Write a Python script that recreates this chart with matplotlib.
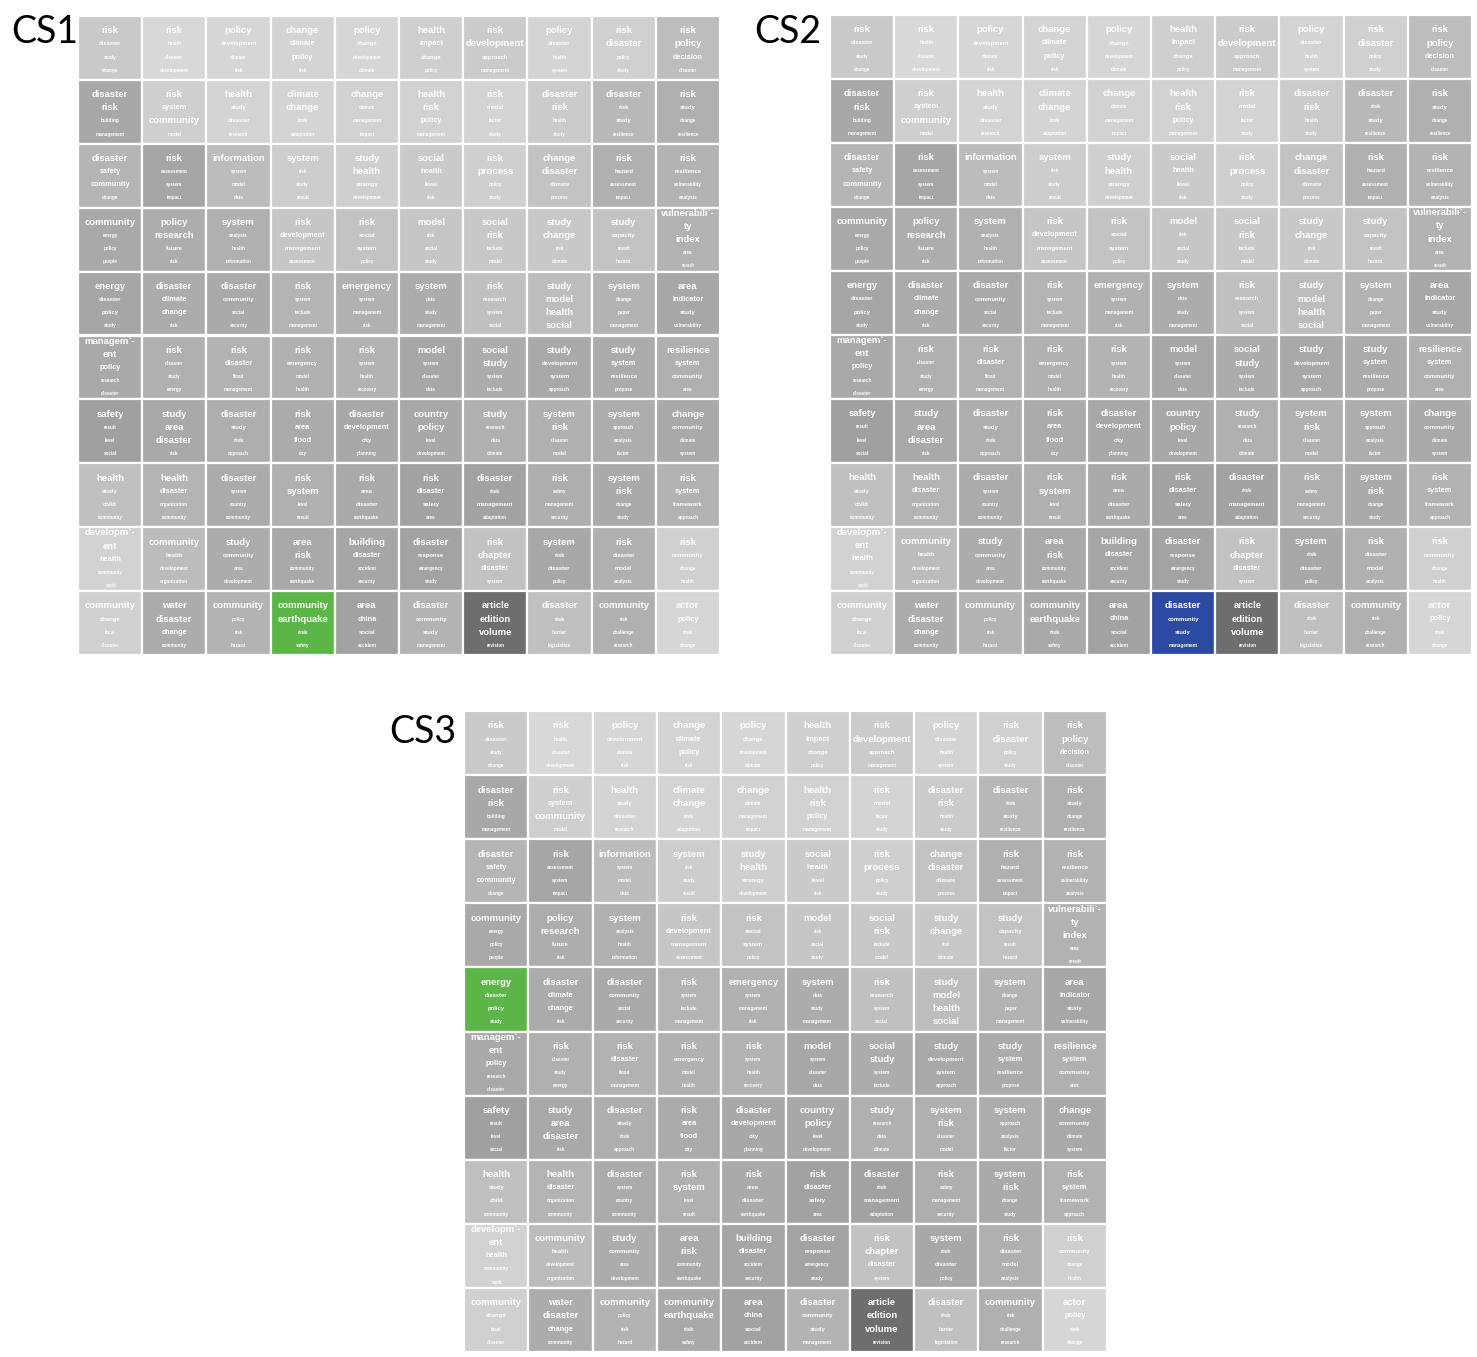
import matplotlib.pyplot as plt
from matplotlib.patches import Rectangle

# SOM cell labels (4 top words per cell), row by row, 10 x 10
words = [
    ["risk|disaster|study|change", "risk|health|disaster|development", "policy|development|climate|risk",
     "change|climate|policy|risk", "policy|change|development|climate", "health|impact|change|policy",
     "risk|development|approach|management", "policy|disaster|health|system", "risk|disaster|policy|study",
     "risk|policy|decision|disaster"],
    ["disaster|risk|building|management", "risk|system|community|model", "health|study|disaster|research",
     "climate|change|risk|adaptation", "change|climate|management|impact", "health|risk|policy|management",
     "risk|model|factor|study", "disaster|risk|health|study", "disaster|risk|study|resilience",
     "risk|study|change|resilience"],
    ["disaster|safety|community|change", "risk|assessment|system|impact", "information|system|model|data",
     "system|risk|study|result", "study|health|strategy|development", "social|health|level|risk",
     "risk|process|policy|study", "change|disaster|climate|process", "risk|hazard|assessment|impact",
     "risk|resilience|vulnerability|analysis"],
    ["community|energy|policy|people", "policy|research|future|risk", "system|analysis|health|information",
     "risk|development|management|assessment", "risk|social|system|policy", "model|risk|social|study",
     "social|risk|include|model", "study|change|risk|climate", "study|capacity|result|hazard",
     "vulnerabili`-\nty|index|area|result"],
    ["energy|disaster|policy|study", "disaster|climate|change|risk", "disaster|community|social|security",
     "risk|system|include|management", "emergency|system|management|risk", "system|data|study|management",
     "risk|research|system|social", "study|model|health|social", "system|change|paper|management",
     "area|indicator|study|vulnerability"],
    ["managem`-\nent|policy|research|disaster", "risk|disaster|study|energy", "risk|disaster|flood|management",
     "risk|emergency|model|health", "risk|system|health|recovery", "model|system|disaster|data",
     "social|study|system|include", "study|development|system|approach", "study|system|resilience|propose",
     "resilience|system|community|area"],
    ["safety|result|level|social", "study|area|disaster|risk", "disaster|study|risk|approach",
     "risk|area|flood|city", "disaster|development|city|planning", "country|policy|level|development",
     "study|research|data|climate", "system|risk|disaster|model", "system|approach|analysis|factor",
     "change|community|climate|system"],
    ["health|study|child|community", "health|disaster|organization|community", "disaster|system|country|community",
     "risk|system|level|result", "risk|area|disaster|earthquake", "risk|disaster|safety|area",
     "disaster|risk|management|adaptation", "risk|safety|management|security", "system|risk|change|study",
     "risk|system|framework|approach"],
    ["developm`-\nent|health|community|work", "community|health|development|organization",
     "study|community|area|development", "area|risk|community|earthquake", "building|disaster|accident|security",
     "disaster|response|emergency|study", "risk|chapter|disaster|system", "system|risk|disaster|policy",
     "risk|disaster|model|analysis", "risk|community|change|health"],
    ["community|change|local|disaster", "water|disaster|change|community", "community|policy|risk|hazard",
     "community|earthquake|risk|safety", "area|china|social|accident", "disaster|community|study|management",
     "article|edition|volume|revision", "disaster|risk|barrier|legislation", "community|risk|challenge|research",
     "actor|policy|risk|change"],
]

# word weight level per word (3 = largest)
levels = [
    ["3100", "3000", "3100", "3220", "3100", "3210", "3310", "3100", "3300", "3320"],
    ["3300", "3230", "3110", "3310", "3000", "3320", "3100", "3300", "3110", "3100"],
    ["3220", "3000", "3000", "3000", "3310", "3210", "3300", "3310", "3100", "3100"],
    ["3000", "3310", "3000", "3210", "3110", "3000", "3300", "3300", "3100", "3300"],
    ["3110", "3220", "3100", "3000", "3000", "3000", "3100", "3333", "3000", "3210"],
    ["3200", "3000", "3200", "3100", "3000", "3000", "3300", "3110", "3210", "3210"],
    ["3000", "3330", "3110", "3220", "3210", "3300", "3000", "3300", "3000", "3100"],
    ["3110", "3200", "3000", "3300", "3110", "3210", "3110", "3000", "3300", "3210"],
    ["3200", "3100", "3100", "3300", "3200", "3100", "3320", "3110", "3110", "3100"],
    ["3100", "3320", "3000", "3310", "3210", "3110", "3330", "3100", "3000", "3210"],
]

# cell gray level (0-255)
gray = [
    [201, 216, 214, 212, 214, 207, 203, 212, 208, 189],
    [168, 207, 212, 212, 210, 210, 212, 203, 184, 176],
    [181, 166, 188, 205, 207, 202, 207, 195, 176, 179],
    [169, 173, 176, 198, 195, 198, 200, 200, 195, 178],
    [166, 171, 170, 180, 177, 172, 192, 189, 179, 167],
    [169, 176, 178, 177, 179, 167, 172, 169, 171, 176],
    [160, 169, 174, 171, 168, 168, 176, 176, 173, 169],
    [192, 180, 171, 176, 170, 162, 162, 174, 170, 178],
    [210, 188, 172, 169, 166, 163, 194, 168, 176, 208],
    [208, 172, 179, 169, 162, 179, 110, 192, 176, 214],
]

panels = ["CS1", "CS2", "CS3"]
highlight_cell = [(9, 3), (9, 5), (4, 0)]
highlight_color = ["#5cb547", "#2c4aa1", "#5cb547"]

# axes rectangles in pixels: left, top, right, bottom
W, H = 1477, 1357
boxes = [(78, 16, 720, 655), (830, 15, 1472, 655), (464, 711, 1107, 1352)]
label_xy = [(11, 32), (754, 32), (389, 732)]

size_pt = {"3": 6.8, "2": 5.3, "1": 4.2, "0": 3.3}

fig = plt.figure(figsize=(W / 100, H / 100), dpi=100)

for p, name in enumerate(panels):
    l, t, r, b = boxes[p]
    ax = fig.add_axes([l / W, 1 - b / H, (r - l) / W, (b - t) / H])
    ax.set_xlim(0, 10)
    ax.set_ylim(10, 0)
    ax.axis("off")
    for i in range(10):
        for j in range(10):
            g = gray[i][j] / 255
            fc = (g, g, g)
            if (i, j) == highlight_cell[p]:
                fc = highlight_color[p]
            ax.add_patch(Rectangle((j, i), 1, 1, facecolor=fc, edgecolor="white", lw=1.6))
            # lay the words out top to bottom
            lines = []
            for w, lv in zip(words[i][j].split("|"), levels[i][j]):
                for part in w.split("\n"):
                    lines.append((part, size_pt[lv]))
            n = len(lines)
            step = 0.205
            center = 0.54 if n == 4 else 0.5
            y0 = center - step * (n - 1) / 2
            for k, (txt, fs) in enumerate(lines):
                ax.text(j + 0.5, i + y0 + k * step, txt, ha="center", va="center",
                        fontsize=fs, color="white", fontweight="bold",
                        family="Liberation Sans")
    lx, ly = label_xy[p]
    fig.text(lx / W, 1 - ly / H, name, fontsize=27, family="Lato",
             ha="left", va="center", color="black")

fig.savefig("out.png", dpi=100, facecolor="white")
